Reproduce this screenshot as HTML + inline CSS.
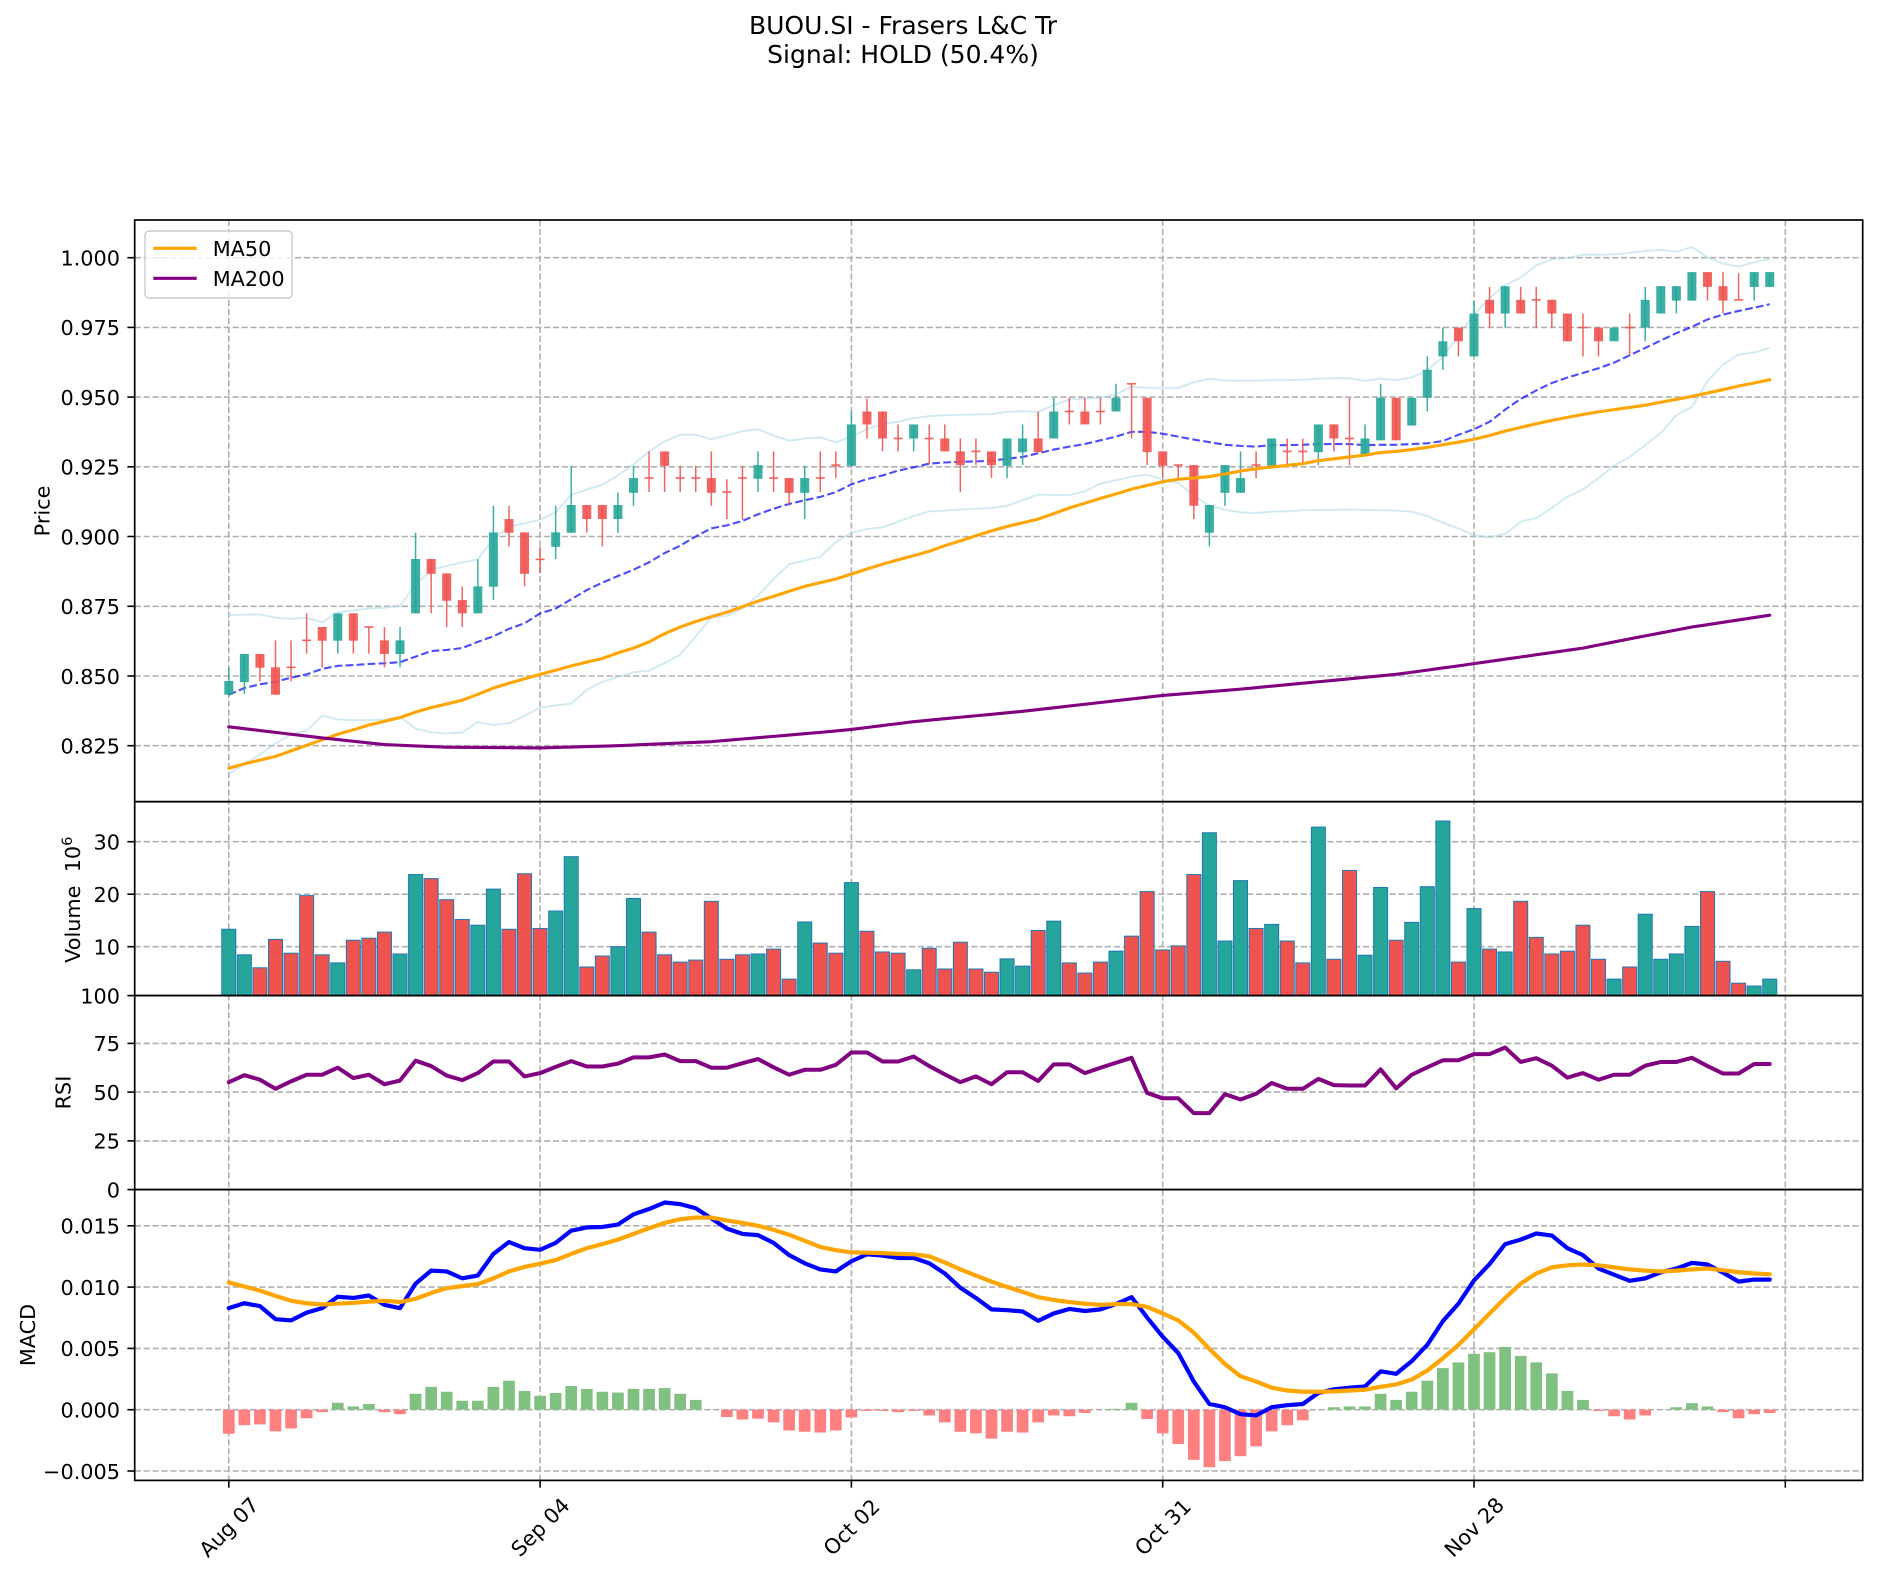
<!DOCTYPE html>
<html><head><meta charset="utf-8"><style>
html,body{margin:0;padding:0;background:#fff;}
svg{display:block;}
text{font-family:"DejaVu Sans","Liberation Sans",sans-serif;fill:#000;}
</style></head><body>
<svg id="c" width="1878" height="1576" viewBox="0 0 1878 1576" xmlns="http://www.w3.org/2000/svg">
<rect width="1878" height="1576" fill="#fff"/>
<g id="grid" stroke="#b0b0b0" stroke-width="1.6" stroke-dasharray="6.2 2.7" fill="none"></g>
<g id="bb" fill="none"></g>
<g id="cand"></g>
<g id="lines" fill="none" stroke-linejoin="round" stroke-linecap="round"></g>
<g id="vol"></g>
<g id="ind"></g>
<g id="spines" fill="none" stroke="#000" stroke-width="1.7">
<rect x="134.7" y="220" width="1728" height="581.7"/>
<rect x="134.7" y="801.7" width="1728" height="193.9"/>
<rect x="134.7" y="995.6" width="1728" height="194"/>
<rect x="134.7" y="1189.6" width="1728" height="290.8"/>
</g>
<g id="ticks" stroke="#000" stroke-width="1.6"></g>
<!-- legend -->
<rect x="145" y="231" width="147" height="67" rx="4" ry="4" fill="#fff" fill-opacity="0.8" stroke="#cccccc" stroke-width="1.4"/>
<line x1="153.3" y1="248.3" x2="196.7" y2="248.3" stroke="#ffa500" stroke-width="3.1"/>
<line x1="153.3" y1="278.3" x2="196.7" y2="278.3" stroke="#800080" stroke-width="3.1"/>
<text x="212.7" y="255.8" font-size="20.8">MA50</text>
<text x="212.7" y="286" font-size="20.8">MA200</text>
<!-- title -->
<text x="903" y="34" font-size="25" text-anchor="middle">BUOU.SI - Frasers L&amp;C Tr</text>
<text x="903" y="63" font-size="25" text-anchor="middle">Signal: HOLD (50.4%)</text>
<!-- y tick labels -->
<g font-size="20.8" text-anchor="end">
<text x="120" y="265.5">1.000</text>
<text x="120" y="335.2">0.975</text>
<text x="120" y="404.9">0.950</text>
<text x="120" y="474.6">0.925</text>
<text x="120" y="544.3">0.900</text>
<text x="120" y="614.1">0.875</text>
<text x="120" y="683.8">0.850</text>
<text x="120" y="753.5">0.825</text>
<text x="120" y="849.5">30</text>
<text x="120" y="902">20</text>
<text x="120" y="954.5">10</text>
<text x="120" y="1003.4">100</text>
<text x="120" y="1051.2">75</text>
<text x="120" y="1099.9">50</text>
<text x="120" y="1148.7">25</text>
<text x="120" y="1197.4">0</text>
<text x="120" y="1233.6">0.015</text>
<text x="120" y="1294.9">0.010</text>
<text x="120" y="1356.2">0.005</text>
<text x="120" y="1417.5">0.000</text>
<text x="120" y="1478.8">−0.005</text>
</g>
<!-- y axis labels -->
<g font-size="20.8" text-anchor="middle">
<text transform="translate(49.5,511) rotate(-90)">Price</text>
<text transform="translate(80,899.7) rotate(-90)" style="white-space:pre">Volume  10<tspan dy="-8" font-size="14.6">6</tspan></text>
<text transform="translate(70.5,1092.5) rotate(-90)">RSI</text>
<text transform="translate(35,1335) rotate(-90)">MACD</text>
</g>
<!-- x tick labels -->
<g font-size="20.8" text-anchor="middle">
<text transform="translate(228.8,1527) rotate(-45)" dy="0.36em">Aug 07</text>
<text transform="translate(540.1,1527) rotate(-45)" dy="0.36em">Sep 04</text>
<text transform="translate(851.4,1527) rotate(-45)" dy="0.36em">Oct 02</text>
<text transform="translate(1162.7,1527) rotate(-45)" dy="0.36em">Oct 31</text>
<text transform="translate(1474,1527) rotate(-45)" dy="0.36em">Nov 28</text>
</g>
</svg>
<script>
(function(){
const NS="http://www.w3.org/2000/svg";
function el(p,tag,a){const e=document.createElementNS(NS,tag);for(const k in a)e.setAttribute(k,a[k]);p.appendChild(e);return e;}
const g=id=>document.getElementById(id);
const X=i=>228.8+15.565*i;
const PY=z=>257.7+(z-101)*0.3697;
const VY=z=>999.2-5.25*((489.5-z)/12.95);
const RY=z=>1189.6-((952-z)/118*25)*1.95;
const MY=z=>1409.7-((1494-z)/150.3*0.005)*12260;
const L=134.7,R=1862.7;
// grid
const G=g('grid');
for(let i=0;i<=100;i+=20){el(G,'line',{x1:X(i),y1:220,x2:X(i),y2:1480.4});}
[257.7,327.4,397.1,466.8,536.5,606.3,676.0,745.7,841.7,894.2,946.7,1043.4,1092.1,1140.9,1225.8,1287.1,1348.4,1409.7,1471].forEach(y=>el(G,'line',{x1:L,y1:y,x2:R,y2:y}));
// ticks
const T=g('ticks');
[257.7,327.4,397.1,466.8,536.5,606.3,676.0,745.7,841.7,894.2,946.7,995.6,1043.4,1092.1,1140.9,1189.6,1225.8,1287.1,1348.4,1409.7,1471].forEach(y=>el(T,'line',{x1:127.4,y1:y,x2:L,y2:y}));
for(let i=0;i<=100;i+=20){el(T,'line',{x1:X(i),y1:1480.4,x2:X(i),y2:1487.7});}
// candles
const C=[[1283,1210,1283,1246],[1249,1173,1281,1173],[1173,1173,1247,1210],[1209,1136,1283,1283],[1209,1136,1247,1209],[1136,1063,1172,1136],[1100,1100,1210,1137],[1137,1063,1172,1063],[1063,1063,1172,1137],[1100,1100,1172,1100],
[1136,1100,1209,1173],[1173,1100,1209,1136],[1063,845,1063,916],[916,916,1063,956],[955,955,1100,1029],[1027,990,1100,1063],[1063,917,1063,990],[991,772,1027,844],[808,772,882,845],[844,844,990,956],
[917,884,954,917],[883,772,916,844],[845,664,845,770],[770,770,845,808],[770,770,882,808],[808,736,845,770],[737,664,772,697],[697,625,735,697],[625,625,735,664],[697,664,735,697],
[697,664,735,697],[697,625,772,737],[735,700,808,735],[697,664,810,697],[699,625,735,662],[697,625,735,697],[697,697,772,737],[737,664,808,697],[697,625,735,697],[662,625,697,662],
[664,517,664,552],[517,482,590,552],[517,517,625,590],[590,552,625,590],[590,552,625,552],[590,552,660,590],[590,552,625,625],[625,590,735,662],[625,590,662,625],[625,625,697,662],
[664,590,697,590],[627,552,662,590],[590,517,627,627],[590,480,590,517],[517,480,552,517],[517,480,552,552],[517,480,552,517],[517,442,517,480],[442,442,590,442],[480,480,662,627],
[625,625,697,664],[662,662,697,662],[662,662,808,772],[845,770,882,770],[737,662,772,662],[737,625,737,697],[662,625,697,662],[664,590,664,590],[625,590,662,625],[625,590,662,625],
[627,552,662,552],[552,552,625,590],[590,480,662,590],[632,552,632,590],[595,442,595,480],[480,480,595,595],[555,480,555,480],[480,368,517,404],[368,290,404,327],[290,290,368,327],
[368,218,368,252],[215,180,290,252],[252,178,290,178],[215,180,252,252],[215,180,290,215],[215,215,290,252],[252,252,327,327],[290,252,368,290],[290,290,368,327],[327,290,327,290],
[290,252,365,290],[290,180,327,215],[252,178,252,178],[217,178,252,178],[217,140,217,140],[140,140,217,180],[178,140,252,217],[215,143,215,215],[180,140,217,140],[180,140,180,140]];
const GREEN='#26a69a',RED='#ef5350';
const up=C.map(c=>c[3]<c[0]);
// bollinger
const UP=[1068,1066,1066,1075,1078,1075,1087,1060,1055,1050,1048,1043,985,945,935,925,917,860,828,820,810,790,742,728,715,690,
660,625,598,580,580,592,582,570,565,582,596,590,587,600,585,565,550,545,535,530,527,526,525,524,518,516,518,
500,485,482,480,470,450,453,453,453,438,428,433,434,434,432,432,431,428,427,427,434,428,432,425,405,370,310,
255,210,175,155,122,105,102,93,93,92,88,83,80,85,72,100,117,125,113,105];
const MID=[1283,1265,1255,1248,1237,1228,1213,1205,1203,1200,1198,1195,1180,1165,1162,1157,1140,1125,1105,1090,1063,1050,1025,1000,980,962,
945,925,900,880,855,833,825,813,795,780,767,757,748,735,714,700,690,677,668,658,655,653,652,650,645,640,630,
620,612,605,595,585,572,572,577,585,593,600,607,610,612,608,608,607,605,605,605,608,607,607,605,603,597,580,
565,545,512,483,460,440,425,413,400,385,365,345,325,305,288,268,255,245,236,227];
const LOW=[1497,1470,1445,1415,1390,1380,1340,1350,1352,1352,1350,1343,1375,1385,1388,1385,1357,1365,1360,1340,1318,1312,1307,1270,1248,1235,
1222,1218,1198,1175,1125,1075,1070,1050,1015,970,930,920,910,870,845,835,830,815,800,787,785,782,780,778,772,757,742,
743,743,733,712,703,693,688,700,710,745,772,782,790,792,788,787,784,783,783,782,783,784,785,788,800,818,833,
852,857,848,815,805,778,747,728,697,663,640,608,575,527,505,435,390,363,357,345];
const MA50=[1482,1470,1460,1450,1435,1420,1405,1390,1378,1365,1355,1345,1330,1318,1308,1298,1282,1265,1252,1240,1228,1217,1205,1195,1185,1170,
1157,1140,1118,1100,1085,1072,1060,1045,1030,1017,1003,990,980,970,957,943,930,918,907,895,880,867,853,840,828,818,808,
793,778,765,752,740,727,717,707,700,697,693,686,678,672,667,663,658,650,645,640,635,628,625,620,614,607,600,
592,582,570,560,550,541,533,525,518,512,506,500,492,484,476,467,458,448,440,431];
const A=[[0,1370],[6,1400],[10,1418],[14,1425],[20,1427],[25,1421],[31,1410],[38,1385],[40,1377],[44,1356],[48,1340],[51,1328],[60,1285],[65,1268],[72,1240],[75,1228],[79,1205],[82,1187],[87,1157],[90,1132],[94,1100],[99,1068]];
const MA200=[];
for(let i=0;i<100;i++){for(let k=0;k<A.length-1;k++){if(i>=A[k][0]&&i<=A[k+1][0]){const t=(i-A[k][0])/(A[k+1][0]-A[k][0]);MA200.push(A[k][1]+t*(A[k+1][1]-A[k][1]));break;}}}
function pts(arr,fy){return arr.map((z,i)=>X(i).toFixed(2)+','+fy(z).toFixed(2)).join(' ');}
const B=g('bb');
el(B,'polyline',{points:pts(UP,PY),stroke:'#add8e6','stroke-opacity':0.55,'stroke-width':2});
el(B,'polyline',{points:pts(LOW,PY),stroke:'#add8e6','stroke-opacity':0.55,'stroke-width':2});
el(B,'polyline',{points:pts(MID,PY),stroke:'#0000ff','stroke-opacity':0.7,'stroke-width':2.1,'stroke-dasharray':'7.7 3.3'});
const CG=g('cand');
C.forEach((c,i)=>{const col=up[i]?GREEN:RED;const x=X(i);
 el(CG,'line',{x1:x,y1:PY(c[1]),x2:x,y2:PY(c[2]),stroke:col,'stroke-width':1.5,'stroke-opacity':0.9});
 const y1=PY(Math.min(c[0],c[3])),y2=PY(Math.max(c[0],c[3]));
 let h=y2-y1;let y=y1;if(h<1.6){y=(y1+y2)/2-0.8;h=1.6;}
 el(CG,'rect',{x:x-4.5,y:y,width:9,height:h,fill:col,'fill-opacity':0.9});
});
const LN=g('lines');
el(LN,'polyline',{points:pts(MA50,PY),stroke:'#ffa500','stroke-width':3.1});
el(LN,'polyline',{points:pts(MA200,PY),stroke:'#800080','stroke-width':3.1});
// volume
const V=[317,380,412,342,376,234,380,400,344,339,324,378,182,192,244,293,307,218,317,180,315,272,138,410,383,360,241,324,380,398,393,248,391,380,378,366,440,299,351,376,202,322,373,376,417,364,415,349,415,423,
390,408,320,297,400,425,398,371,334,224,368,358,182,79,346,197,315,305,346,400,65,391,172,381,214,344,300,212,50,398,266,366,373,248,337,378,371,307,391,440,410,280,391,378,310,224,396,450,457,440];
const VG=g('vol');
V.forEach((z,i)=>{const y=VY(z);el(VG,'rect',{x:X(i)-7,y:y,width:14,height:995.6-y,fill:up[i]?GREEN:RED,stroke:'#1f77b4','stroke-width':1});});
// indicators
const RSI=[692,675,686,708,690,674,674,657,682,674,697,688,640,653,676,687,670,642,642,678,670,655,641,654,654,647,632,632,625,641,641,657,657,646,636,656,674,662,662,650,620,620,642,642,630,653,673,692,678,697,
668,668,689,649,649,670,657,645,633,718,731,731,767,767,721,734,720,694,708,708,684,699,700,700,661,707,674,656,639,639,624,624,608,643,634,652,681,670,686,674,674,652,643,643,633,653,671,671,648,648];
const MB=[1245,1233,1240,1272,1275,1256,1245,1217,1220,1214,1237,1245,1185,1153,1155,1172,1165,1112,1083,1098,1102,1085,1055,1047,1046,1040,1015,1002,986,990,1000,1025,1050,1063,1066,1085,1115,1135,1150,1155,1130,1113,1116,1122,1122,1135,1160,1195,1220,1248,1250,
1253,1276,1258,1247,1252,1248,1235,1218,1268,1315,1355,1425,1480,1488,1505,1508,1488,1483,1480,1453,1444,1440,1437,1400,1406,1375,1335,1277,1234,1177,1137,1088,1077,1062,1067,1098,1115,1148,1163,1178,1172,1157,1148,1134,1138,1158,1180,1175,1175];
const SG=[1182,1192,1202,1215,1227,1233,1236,1234,1232,1229,1227,1230,1222,1208,1196,1191,1186,1172,1155,1144,1136,1127,1112,1098,1088,1077,1063,1049,1036,1027,1023,1023,1030,1036,1043,1053,1065,1080,1095,1103,1108,1109,1110,1112,1113,1118,1133,1150,1165,1180,1193,
1205,1218,1225,1230,1234,1237,1235,1235,1242,1258,1275,1305,1345,1382,1412,1425,1440,1447,1450,1450,1449,1447,1445,1438,1432,1420,1398,1368,1335,1297,1258,1220,1185,1160,1145,1140,1138,1140,1145,1150,1153,1155,1153,1150,1148,1152,1157,1160,1162];
const H=[1553,1532,1530,1547,1540,1515,1500,1477,1486,1480,1500,1505,1455,1438,1450,1472,1472,1438,1423,1448,1460,1453,1436,1443,1450,1452,1443,1443,1441,1455,1470,1494,1512,1518,1516,1525,1545,1548,1550,1545,1513,1497,1497,1500,1497,1508,1525,1548,1552,1565,1548,
1550,1525,1508,1510,1502,1494,1492,1477,1517,1552,1578,1617,1635,1620,1608,1584,1547,1532,1520,1494,1488,1486,1486,1455,1470,1450,1423,1392,1378,1357,1353,1340,1362,1378,1405,1448,1470,1497,1510,1518,1508,1494,1488,1478,1486,1500,1515,1505,1502];
const IG=g('ind');
H.forEach((z,i)=>{const y=MY(z);const y0=1409.7;if(Math.abs(y-y0)<0.3)return;
 el(IG,'rect',{x:X(i)-5.85,y:Math.min(y,y0),width:11.7,height:Math.abs(y-y0),fill:z<1494?'#80c080':'#ff8080'});});
el(IG,'polyline',{points:pts(RSI,RY),stroke:'#800080','stroke-width':4,fill:'none','stroke-linejoin':'round','stroke-linecap':'round'});
el(IG,'polyline',{points:pts(MB,MY),stroke:'#0000ff','stroke-width':4.2,fill:'none','stroke-linejoin':'round','stroke-linecap':'round'});
el(IG,'polyline',{points:pts(SG,MY),stroke:'#ffa500','stroke-width':4.2,fill:'none','stroke-linejoin':'round','stroke-linecap':'round'});
})();
</script>
</body></html>
